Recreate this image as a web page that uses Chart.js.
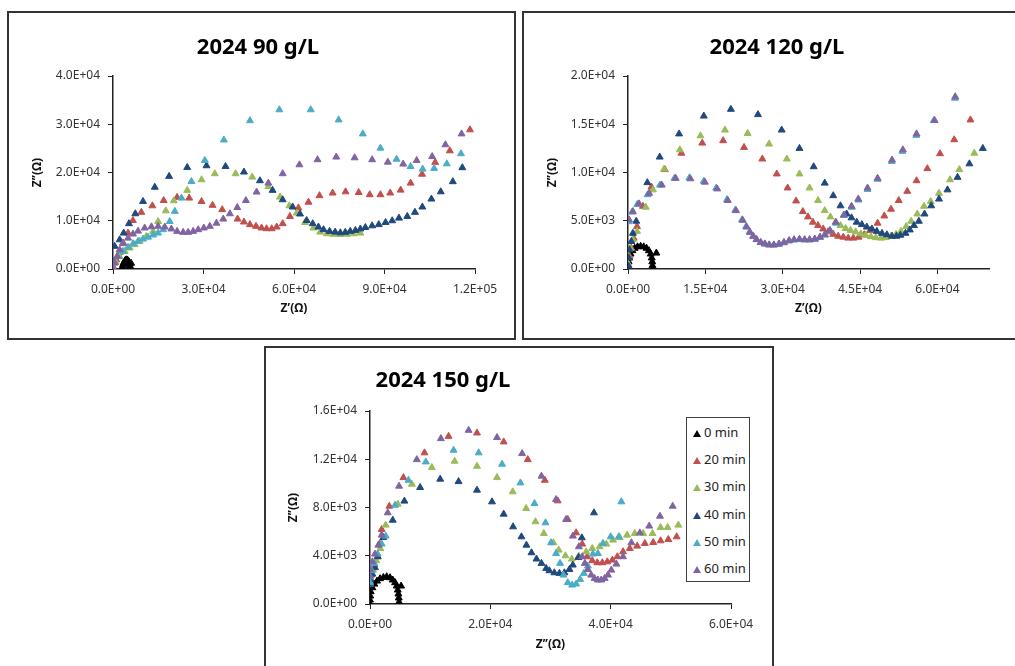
<!DOCTYPE html>
<html>
<head>
<meta charset="utf-8">
<script src="https://cdn.jsdelivr.net/npm/chart.js@4.4.1/dist/chart.umd.min.js"></script>
<style>
  body { margin: 0; background: #fff; width: 1015px; height: 666px; overflow: hidden; position: relative; font-family: 'Noto Sans', 'DejaVu Sans', sans-serif; }
  .panel { position: absolute; box-sizing: border-box; border: 2px solid #333; background: #fff; }
  canvas { position: absolute; }
  .title { position: absolute; width: 300px; text-align: center; font-weight: bold; font-size: 22px; line-height: 26px; color: #000; }
  #legend { position: absolute; left: 686px; top: 417px; width: 64px; height: 165px; box-sizing: border-box; border: 1px solid #404040; background: #fff; }
  .item { position: absolute; left: 6px; font-size: 13px; line-height: 16px; color: #222; white-space: nowrap; }
  .tri { display: inline-block; width: 0; height: 0; border-left: 4px solid transparent; border-right: 4px solid transparent; border-bottom: 7px solid; margin-right: 3px; vertical-align: 0px; }
</style>
</head>
<body>
<div class="panel" style="left:7px;top:11px;width:509px;height:329px"></div>
<div class="panel" style="left:522px;top:11px;width:520px;height:329px"></div>
<div class="panel" style="left:264px;top:346px;width:510px;height:340px"></div>

<canvas id="c90" width="505" height="325" style="left:9px;top:13px"></canvas>
<canvas id="c120" width="491" height="325" style="left:524px;top:13px"></canvas>
<canvas id="c150" width="505" height="317" style="left:267px;top:349px"></canvas>

<div class="title" style="left:108px;top:32px">2024 90 g/L</div>
<div class="title" style="left:627px;top:32px">2024 120 g/L</div>
<div class="title" style="left:293px;top:365px">2024 150 g/L</div>

<div id="legend"></div>

<script>
const seriesNames = ['0 min', '20 min', '30 min', '40 min', '50 min', '60 min'];
const seriesColors = ['#000000', '#C0504D', '#9BBB59', '#1F497D', '#4BACC6', '#8064A2'];

// tick values of each axis
const x90Ticks = [0, 30000, 60000, 90000, 120000];
const y90Ticks = [0, 10000, 20000, 30000, 40000];
const x120Ticks = [0, 15000, 30000, 45000, 60000];
const y120Ticks = [0, 5000, 10000, 15000, 20000];
const x150Ticks = [0, 20000, 40000, 60000];
const y150Ticks = [0, 4000, 8000, 12000, 16000];

// 2024 90 g/L  [Z', Z'']
const g90_0 = [[3100,0],[3150,400],[3300,800],[3500,1200],[3800,1550],[4100,1800],[4450,1900],[4800,1850],[5100,1650],[5350,1350],[5500,1000],[5600,650],[5650,300],[5700,0],[6000,1200]];
const g90_20 = [[0,550],[1100,1900],[2200,3450],[3500,5250],[5000,7450],[6600,10050],[9400,11750],[13050,13100],[16800,14200],[21250,14850],[25250,14700],[29350,14000],[33000,13200],[36200,12300],[41300,10350],[43400,9750],[45400,9200],[47400,8850],[49250,8500],[50900,8350],[52600,8350],[54250,8700],[56250,9400],[58650,10900],[61450,12650],[64800,13850],[68450,15200],[72800,15750],[77100,16000],[81450,15850],[85100,15400],[88650,15400],[91900,15750],[95350,16350],[98650,17800],[102450,19650],[106800,22100],[111650,24500],[118350,28850]];
const g90_30 = [[0,150],[900,1400],[2200,2600],[3900,3650],[5550,4350],[7200,5050],[8850,5750],[11050,6750],[13300,7800],[14950,9850],[17500,12050],[20150,14150],[24600,16300],[29350,18500],[33750,19750],[40650,19750],[46150,19050],[51500,17100],[55350,14900],[58450,13100],[60900,11600],[63650,9650],[66450,8500],[68650,7650],[70900,7300],[73100,7200],[75350,7150],[77550,7200],[79800,7300],[82000,7450]];
const g90_40 = [[200,1500],[550,4700],[2200,6050],[3550,7450],[5300,9400],[7400,11450],[9950,14000],[13850,16950],[18600,19200],[24600,21050],[31000,21400],[37300,21250],[43400,20100],[48700,18300],[52900,16300],[56250,14350],[59550,12850],[62000,11400],[64200,10050],[66200,9400],[68100,8700],[69800,8150],[71800,7800],[73650,7650],[75350,7500],[77000,7600],[78650,7800],[80350,8000],[82000,8300],[83650,8600],[85900,8950],[88100,9200],[90350,9650],[92550,10000],[94800,10550],[97550,10900],[100100,11750],[102550,12850],[105550,14500],[108650,16000],[112650,18100],[115800,21000]];
const g90_50 = [[0,0],[550,1250],[1650,2600],[3300,3650],[5000,4500],[6650,5250],[8300,5750],[9950,6200],[11600,6600],[13300,7050],[14950,7450],[16600,8150],[18800,9850],[20500,11950],[22700,14700],[26000,18150],[30450,22500],[36750,26750],[45400,30750],[55150,33000],[65550,33000],[74800,30900],[82800,28000],[88650,25050],[94000,22750],[98650,21250],[102650,20700],[106450,20850],[110650,21800],[115350,23900]];
const g90_60 = [[0,0],[550,1250],[1350,2600],[2200,4000],[3300,5400],[5000,6400],[6650,7250],[8300,7850],[10500,8500],[12750,8750],[14950,8850],[17150,8700],[19350,8300],[21250,7800],[23250,7600],[24900,7600],[26550,7800],[28250,8150],[30100,8500],[32100,8850],[34300,9500],[36550,10350],[38750,11450],[41200,12750],[44050,14200],[47600,15950],[51500,17800],[56250,19750],[61800,21600],[67800,22650],[74000,23200],[80100,23050],[85900,22650],[91100,22150],[96200,21750],[100650,22500],[105800,23300],[110200,25750],[115550,28000]];

// 2024 120 g/L
const g120_0 = [[0,0],[50,350],[120,750],[250,1150],[500,1550],[850,1900],[1300,2150],[1850,2300],[2450,2350],[3050,2300],[3600,2150],[4050,1900],[4400,1550],[4600,1150],[4700,750],[4750,350],[4800,0],[5500,1650]];
const g120_20 = [[0,450],[320,1300],[650,2150],[1100,3200],[1750,4400],[2900,6500],[4550,8500],[7150,10300],[10350,12000],[14400,13050],[18450,13300],[22500,12600],[26050,11400],[28850,9850],[30950,8400],[32600,7050],[33900,5950],[34900,5400],[35850,4850],[36850,4500],[37850,4150],[38800,3850],[39800,3600],[40750,3400],[41750,3300],[42700,3200],[43700,3200],[44700,3300],[45800,3550],[46950,4000],[48400,4750],[49700,5500],[51000,6200],[52500,7100],[54150,8050],[55950,9150],[58050,10400],[60500,11950],[63250,13400],[66400,15450]];
const g120_30 = [[0,600],[70,1300],[450,2150],[950,3050],[1750,3900],[3450,6400],[4850,8200],[7000,10350],[10050,12350],[14050,13800],[18800,14400],[23200,14050],[27350,12950],[30800,11400],[33250,9850],[35200,8400],[36850,7100],[38150,6050],[39250,5400],[40250,4850],[41200,4500],[42200,4200],[43150,4000],[44150,3850],[45150,3650],[46100,3500],[47100,3350],[48050,3250],[49050,3200],[50000,3250],[51000,3400],[52000,3600],[52950,3900],[53950,4400],[54900,4950],[56100,5700],[57400,6500],[58700,7000],[60300,7850],[62450,9250],[64250,10300],[67150,12000]];
const g120_40 = [[100,300],[150,1150],[300,2000],[650,2850],[950,3700],[1600,4950],[3750,8950],[6150,11600],[9900,14000],[14700,15850],[19950,16550],[25200,16000],[29800,14400],[33250,12500],[36000,10600],[38150,8900],[39800,7600],[41200,6550],[42400,5700],[43350,5300],[44350,4850],[45350,4600],[46300,4350],[47300,4150],[48250,3900],[49250,3700],[50200,3550],[51200,3400],[52050,3400],[52800,3500],[53800,3700],[54650,4050],[55450,4500],[56400,4950],[57500,5700],[58800,6550],[60300,7250],[61950,8200],[63900,9500],[66200,10900],[68800,12500]];
const g120_50 = [[100,4900],[800,5900],[1800,6700],[3800,7700],[6200,8700],[9000,9400],[11900,9450],[14700,9100],[17100,8400],[19200,7200],[20800,6100],[22100,5100],[22900,4400],[23600,3850],[24250,3400],[24900,3050],[25700,2750],[26500,2600],[27350,2500],[28250,2480],[29200,2550],[30200,2720],[31200,2900],[32200,3000],[33250,3050],[34250,3000],[35250,3000],[36250,3080],[37250,3280],[38200,3520],[39200,3950],[40350,4750],[41900,5550],[43400,6400],[44700,7150],[46450,8250],[48400,9300],[51150,11150],[53200,12200],[55900,13850],[59300,15380],[63400,17700]];
const g120_60 = [[200,5100],[950,5950],[2150,6750],[4100,7850],[6550,8700],[9250,9400],[12100,9350],[14900,9000],[17300,8300],[19350,7100],[20950,6050],[22250,5050],[23000,4350],[23650,3800],[24300,3400],[24950,3050],[25750,2750],[26550,2600],[27400,2500],[28300,2500],[29300,2600],[30250,2750],[31250,2950],[32200,3050],[33250,3100],[34250,3050],[35200,3050],[36200,3100],[37200,3300],[38150,3550],[39150,4000],[40300,4850],[41850,5600],[43350,6500],[44650,7250],[46450,8400],[48400,9400],[51200,11300],[53300,12350],[55950,14000],[59450,15400],[63450,17850]];

// 2024 150 g/L
const g150_0 = [[0,0],[0,330],[50,660],[110,1020],[390,1350],[720,1650],[1170,1900],[1670,2100],[2220,2200],[2780,2260],[3330,2180],[3780,1990],[4170,1770],[4450,1490],[4610,1160],[4720,830],[4780,500],[4830,170],[5170,1490]];
const g150_20 = [[0,1850],[170,2400],[720,3230],[1280,3920],[1600,5000],[1940,6180],[3220,8110],[5560,10480],[9060,12530],[13060,13900],[17780,14180],[22220,13440],[26220,11970],[29060,10260],[31200,8550],[32870,7010],[34260,5900],[35270,4970],[36100,3920],[36940,3590],[37770,3420],[38610,3420],[39440,3500],[40280,3640],[41110,3920],[42060,4330],[43180,4610],[44400,4800],[45680,5020],[47070,5100],[48300,5240],[49580,5350],[50970,5570]];
const g150_30 = [[0,1650],[60,2120],[500,2810],[1060,3590],[1720,4610],[2610,6540],[4610,8280],[6950,9930],[10280,11310],[14060,11840],[17780,11420],[21110,10480],[23720,9300],[25950,7920],[27500,6820],[28890,5850],[30480,5080],[31370,4470],[32480,4000],[33540,3730],[34710,3970],[35930,4330],[36940,4610],[38160,4750],[39280,4970],[40390,5300],[41500,5520],[42730,5710],[44010,5850],[45400,5850],[46960,5850],[48300,6350],[49470,6350],[51250,6540]];
const g150_40 = [[0,1650],[60,2040],[390,2480],[830,3010],[1280,3920],[2220,5520],[3780,6950],[5720,8530],[8330,9660],[11670,10350],[14720,10150],[17780,9440],[20280,8470],[22220,7450],[23780,6400],[25170,5570],[26000,4880],[26840,4250],[27670,3730],[28500,3370],[29280,2950],[29810,2760],[30640,2590],[31480,2540],[32310,2590],[33150,2870],[33710,3230],[34650,3860],[35210,5490],[37220,7560]];
const g150_50 = [[0,1770],[0,2260],[280,2760],[720,3370],[1280,4140],[1940,4970],[2610,5630],[4170,8190],[6390,10260],[9280,11780],[13890,12750],[18060,12530],[21950,11590],[25000,10040],[27340,8330],[29170,6730],[30090,5080],[30920,4190],[31590,3370],[32150,2400],[32870,1770],[33590,1570],[34260,1660],[34930,2040],[35540,2540],[36210,3150],[37050,4140],[37880,4190],[38720,5020],[40000,5570],[41340,5570],[41780,8470]];
const g150_60 = [[0,2320],[0,2870],[390,3500],[830,4140],[1390,4880],[1940,5710],[2950,7560],[4830,9770],[7780,11970],[11780,13710],[16390,14400],[21110,13800],[25280,12470],[28500,10600],[30920,8660],[32590,7010],[33710,5630],[34710,4750],[35270,3920],[35710,3370],[36210,2870],[36770,2400],[37330,2120],[37880,1990],[38440,1990],[39000,2120],[39550,2400],[40110,2810],[40950,3310],[42060,3920],[43450,5080],[44850,5900],[46410,6460],[48190,7280],[50310,8110]];

const fontFamily = "'Noto Sans', 'DejaVu Sans', sans-serif";

// Excel style scientific labels: 1.5E+04
function sci(v) {
  const parts = Number(v).toExponential(1).split('e');
  const sign = parts[1][0];
  const exp = parts[1].slice(1).padStart(2, '0');
  return parts[0] + 'E' + sign + exp;
}

function axis(max, tickValues, title, fitSize, horizontal, titlePad) {
  return {
    type: 'linear',
    min: 0,
    max: max,
    ticks: {
      callback: sci,
      color: '#333',
      font: { family: fontFamily, size: 12 },
      padding: 8,
      maxRotation: 0,
      autoSkip: false
    },
    grid: { drawOnChartArea: false, drawTicks: true, tickLength: 5, color: '#222' },
    border: { color: '#222', width: 1.5 },
    title: {
      display: true,
      text: title,
      color: '#111',
      font: { family: fontFamily, size: 12, weight: 'bold' },
      padding: horizontal ? { top: 0, bottom: titlePad } : { top: titlePad, bottom: 0 }
    },
    afterBuildTicks: function(s) {
      s.ticks = tickValues.map(v => ({ value: v }));
    },
    afterFit: function(s) {
      if (horizontal) s.height = fitSize; else s.width = fitSize;
    }
  };
}

function makeChart(id, data, o) {
  const datasets = data.map((pts, i) => ({
    label: seriesNames[i],
    data: pts.map(p => ({ x: p[0], y: p[1] })),
    pointStyle: 'triangle',
    pointRadius: 4,
    pointBorderWidth: 1,
    backgroundColor: seriesColors[i],
    borderColor: seriesColors[i],
    showLine: false,
    order: data.length - i
  }));
  return new Chart(document.getElementById(id).getContext('2d'), {
    type: 'scatter',
    data: { datasets: datasets },
    options: {
      responsive: false,
      animation: false,
      layout: { padding: { top: o.top, right: o.right, bottom: 0, left: 0 } },
      plugins: { legend: { display: false }, tooltip: { enabled: false } },
      scales: {
        x: axis(o.xMax, o.xTicks, o.xTitle, o.xH, true, o.xTitlePad),
        y: axis(o.yMax, o.yTicks, 'Z’’(Ω)', o.yW, false, o.yTitlePad)
      }
    }
  });
}

makeChart('c90', [g90_0, g90_20, g90_30, g90_40, g90_50, g90_60], {
  xMax: 120000, xTicks: x90Ticks, yMax: 40000, yTicks: y90Ticks, xTitle: 'Z’(Ω)',
  top: 63, right: 39, xH: 69, yW: 104, xTitlePad: 22, yTitlePad: 21
});
makeChart('c120', [g120_0, g120_20, g120_30, g120_40, g120_50, g120_60], {
  xMax: 70000, xTicks: x120Ticks, yMax: 20000, yTicks: y120Ticks, xTitle: 'Z’(Ω)',
  top: 63, right: 26, xH: 69, yW: 104, xTitlePad: 22, yTitlePad: 21
});
makeChart('c150', [g150_0, g150_20, g150_30, g150_40, g150_50, g150_60], {
  xMax: 60000, xTicks: x150Ticks, yMax: 16000, yTicks: y150Ticks, xTitle: 'Z’’(Ω)',
  top: 62, right: 41, xH: 62, yW: 103, xTitlePad: 14, yTitlePad: 19
});

// legend for the 150 g/L panel
const legend = document.getElementById('legend');
seriesNames.forEach((name, i) => {
  const item = document.createElement('div');
  item.className = 'item';
  item.style.top = (6 + i * 27.2) + 'px';
  item.innerHTML = '<span class="tri" style="border-bottom-color:' + seriesColors[i] + '"></span>' + name;
  legend.appendChild(item);
});
</script>
</body>
</html>
